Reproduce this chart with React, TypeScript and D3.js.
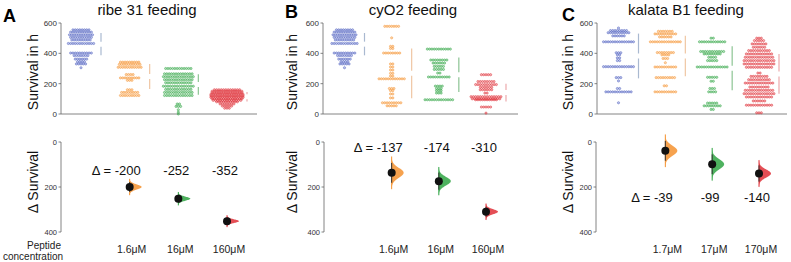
import React from "react";
import * as d3 from "d3";

type Row = [number, number]; // [survival value in h, number of flies at that value]

const panelLetters = ["A", "B", "C"];
const panelTitles = ["ribe 31 feeding", "cyO2 feeding", "kalata B1 feeding"];
const concA = ["1.6μM", "16μM", "160μM"];
const concB = ["1.6μM", "16μM", "160μM"];
const concC = ["1.7μM", "17μM", "170μM"];
const topTicks = [0, 200, 400, 600];
const bottomTicks = [0, 200, 400];

// Panel A
const aControl: Row[] = [[555, 8], [540, 10], [522, 11], [505, 10], [488, 9], [465, 12], [402, 10], [385, 7], [362, 6], [345, 4], [330, 5], [305, 1]];
const aLow: Row[] = [[342, 9], [327, 10], [308, 11], [260, 4], [238, 9], [222, 3], [160, 3], [142, 8], [122, 9]];
const aMid: Row[] = [[300, 12], [265, 13], [246, 14], [226, 13], [206, 12], [183, 14], [162, 12], [142, 13], [122, 13], [66, 2], [50, 3], [28, 1], [12, 1], [0, 1]];
const aHigh: Row[] = [[160, 12], [150, 14], [140, 14], [130, 15], [120, 15], [110, 15], [100, 14], [90, 13], [80, 10], [66, 7], [52, 5], [38, 3]];
// Panel B
const bControl: Row[] = [[555, 8], [540, 10], [522, 11], [505, 10], [488, 9], [465, 12], [402, 10], [385, 7], [362, 6], [345, 4], [330, 5], [305, 1]];
const bLow: Row[] = [[578, 7], [502, 1], [446, 2], [432, 2], [402, 8], [330, 2], [310, 2], [290, 2], [268, 2], [250, 2], [232, 12], [168, 3], [154, 2], [132, 2], [106, 2], [74, 9], [54, 5]];
const bMid: Row[] = [[428, 11], [356, 8], [336, 6], [314, 5], [294, 5], [270, 2], [244, 10], [184, 4], [168, 3], [154, 3], [138, 3], [94, 13]];
const bHigh: Row[] = [[259, 5], [214, 8], [194, 10], [176, 6], [160, 6], [138, 2], [114, 14], [100, 13], [94, 10], [46, 5], [6, 1]];
// Panel C
const cControl: Row[] = [[567, 1], [550, 8], [536, 10], [515, 6], [476, 14], [404, 3], [390, 2], [370, 2], [352, 2], [312, 14], [240, 3], [218, 1], [168, 2], [146, 12], [74, 1]];
const cLow: Row[] = [[545, 7], [528, 10], [508, 6], [476, 14], [405, 8], [390, 4], [366, 3], [338, 1], [310, 10], [240, 9], [186, 2], [146, 10]];
const cMid: Row[] = [[500, 2], [476, 12], [412, 11], [396, 8], [374, 4], [352, 5], [310, 14], [242, 5], [216, 2], [168, 3], [146, 4], [72, 5], [54, 8], [30, 2]];
const cHigh: Row[] = [[500, 3], [484, 5], [462, 7], [440, 6], [418, 10], [396, 12], [374, 13], [352, 14], [330, 14], [308, 12], [270, 2], [248, 8], [226, 10], [204, 13], [178, 9], [156, 13], [134, 14], [112, 12], [86, 6], [58, 12], [8, 3]];

// Mean differences (Δ) and bootstrap spread
const deltaA = [-200, -252, -352];
const deltaSpreadA = [11, 9, 8];
const deltaB = [-137, -174, -310];
const deltaSpreadB = [22, 19, 11];
const deltaC = [-39, -99, -140];
const deltaSpreadC = [22, 22, 18];

const groupColors = ["#4d5fc0", "#f5922f", "#2fa543", "#df2f37"];
const sideColors = ["#a9b9d0", "#efc6a3", "#8cc493", "#eca9ac"];
const FONT = "'Liberation Sans', Arial, Helvetica, sans-serif";

const panelData = [
  { groups: [aControl, aLow, aMid, aHigh], delta: deltaA, spread: deltaSpreadA, conc: concA },
  { groups: [bControl, bLow, bMid, bHigh], delta: deltaB, spread: deltaSpreadB, conc: concB },
  { groups: [cControl, cLow, cMid, cHigh], delta: deltaC, spread: deltaSpreadC, conc: concC },
];

const layouts = [
  { axisX: 61, xEnd: 257, c0: 81, c3: 227, letterX: 3, letterY: 22, titleX: 147, ylabX: 33, bAxisX: 61, deltaY: 175 },
  { axisX: 323, xEnd: 518, c0: 344.5, c3: 486, letterX: 285, letterY: 18, titleX: 413, ylabX: 292, bAxisX: 324, deltaY: 152 },
  { axisX: 597, xEnd: 787, c0: 618.5, c3: 759, letterX: 562, letterY: 21, titleX: 686, ylabX: 568, bAxisX: 596, deltaY: 202 },
];

function stats(rows: Row[]) {
  const vals: number[] = [];
  rows.forEach(([v, n]) => { for (let i = 0; i < n; i++) vals.push(v); });
  return { mean: d3.mean(vals) as number, sd: d3.deviation(vals) as number };
}

function numWidth(s: string, fs: number) {
  let w = 0;
  for (const ch of s) w += ch === "-" ? 0.333 * fs : 0.556 * fs;
  return w;
}

function Panel({ idx }: { idx: number }) {
  const L = layouts[idx];
  const D = panelData[idx];
  const x = d3.scalePoint<number>().domain([0, 1, 2, 3]).range([L.c0, L.c3]);
  const yTop = d3.scaleLinear().domain([0, 600]).range([114, 23]);
  const yBot = d3.scaleLinear().domain([0, 400]).range([142, 232]);
  const spacing = 2.3;

  return (
    <g>
      <text x={L.letterX} y={L.letterY} fontSize={18} fontWeight="bold" fontFamily={FONT} fill="#000">{panelLetters[idx]}</text>
      <text x={L.titleX} y={15} fontSize={15} textAnchor="middle" fontFamily={FONT} fill="#111">{panelTitles[idx]}</text>

      {/* top axes */}
      <line x1={L.axisX} x2={L.axisX} y1={yTop(600)} y2={yTop(0)} stroke="#666" strokeWidth={0.8} />
      <line x1={L.axisX} x2={L.xEnd} y1={yTop(0)} y2={yTop(0)} stroke="#666" strokeWidth={0.8} />
      {topTicks.map((t) => (
        <g key={t}>
          <line x1={L.axisX - 2.5} x2={L.axisX} y1={yTop(t)} y2={yTop(t)} stroke="#666" strokeWidth={0.8} />
          <text x={L.axisX - 4} y={yTop(t) + 3} fontSize={8} textAnchor="end" fontFamily={FONT} fill="#333">{t}</text>
        </g>
      ))}
      <text transform={`translate(${L.ylabX + 5},${72}) rotate(-90)`} fontSize={14} textAnchor="middle" fontFamily={FONT} fill="#111">Survival in h</text>

      {/* swarms */}
      {D.groups.map((rows, gi) => (
        <g key={gi}>
          {rows.map(([v, n], ri) =>
            d3.range(n).map((i) => (
              <circle key={`${ri}-${i}`} cx={(x(gi) as number) + (i - (n - 1) / 2) * spacing} cy={yTop(v)} r={1.1}
                fill={groupColors[gi]} fillOpacity={0.35} stroke={groupColors[gi]} strokeOpacity={0.85} strokeWidth={0.6} />
            ))
          )}
        </g>
      ))}

      {/* mean ± sd gapped lines */}
      {D.groups.map((rows, gi) => {
        const s = stats(rows);
        const sx = (x(gi) as number) + 20;
        return (
          <g key={`s${gi}`} stroke={sideColors[gi]} strokeWidth={1.2}>
            <line x1={sx} x2={sx} y1={yTop(s.mean + s.sd)} y2={yTop(s.mean) - 2.5} />
            <line x1={sx} x2={sx} y1={yTop(s.mean) + 2.5} y2={yTop(s.mean - s.sd)} />
          </g>
        );
      })}

      {/* bottom axis */}
      <line x1={L.bAxisX} x2={L.bAxisX} y1={yBot(0)} y2={yBot(400)} stroke="#666" strokeWidth={0.8} />
      {bottomTicks.map((t) => (
        <g key={t}>
          <line x1={L.bAxisX - 2.5} x2={L.bAxisX} y1={yBot(t)} y2={yBot(t)} stroke="#666" strokeWidth={0.8} />
          <text x={L.bAxisX - 4} y={yBot(t) + 3} fontSize={7.5} textAnchor="end" fontFamily={FONT} fill="#333">{t}</text>
        </g>
      ))}
      <text transform={`translate(${L.ylabX + 5},${182}) rotate(-90)`} fontSize={14} textAnchor="middle" fontFamily={FONT} fill="#111">Δ Survival</text>

      {/* effect sizes */}
      {D.delta.map((d, k) => {
        const gi = k + 1;
        const cx = x(gi) as number;
        const m = -d;
        const se = D.spread[k];
        const pts = d3.range(-3.5, 3.51, 0.1).map((z) => ({ v: m + z * se, w: 12 * Math.exp(-(z * z) / 2) }));
        const area = d3.area<{ v: number; w: number }>()
          .y((p) => yBot(p.v))
          .x0(cx)
          .x1((p) => cx + p.w)
          .curve(d3.curveBasis);
        const numX = cx - 2;
        const label = String(d);
        const half = numWidth(label, 13) / 2;
        return (
          <g key={`d${k}`}>
            <path d={area(pts) as string} fill={groupColors[gi]} fillOpacity={0.85} />
            <line x1={cx} x2={cx} y1={yBot(m - 3.3 * se)} y2={yBot(m + 3.3 * se)} stroke={groupColors[gi]} strokeWidth={1} />
            <line x1={cx} x2={cx} y1={yBot(m - 2 * se)} y2={yBot(m + 2 * se)} stroke="#333" strokeWidth={1} />
            <circle cx={cx} cy={yBot(m)} r={4} fill="#111" />
            {k === 0 ? (
              <text x={numX + half} y={L.deltaY} fontSize={13} textAnchor="end" fontFamily={FONT} fill="#111">{`Δ = ${label}`}</text>
            ) : (
              <text x={numX} y={L.deltaY} fontSize={13} textAnchor="middle" fontFamily={FONT} fill="#111">{label}</text>
            )}
            <text x={cx + 2} y={253} fontSize={10.5} textAnchor="middle" fontFamily={FONT} fill="#222">{D.conc[k]}</text>
          </g>
        );
      })}
    </g>
  );
}

export default function App() {
  return (
    <svg width={791} height={262} style={{ position: "absolute", left: 0, top: 0, background: "#fff" }}>
      <rect width={791} height={262} fill="#fff" />
      {[0, 1, 2].map((i) => <Panel key={i} idx={i} />)}
      <text x={44} y={249} fontSize={10} textAnchor="middle" fontFamily={FONT} fill="#222">Peptide</text>
      <text x={33} y={260} fontSize={10} textAnchor="middle" fontFamily={FONT} fill="#222">concentration</text>
    </svg>
  );
}
